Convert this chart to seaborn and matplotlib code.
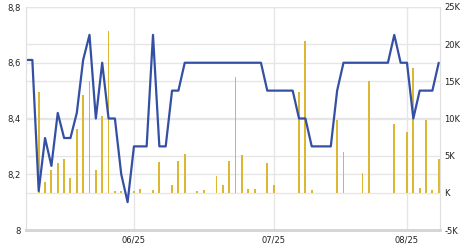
import matplotlib
matplotlib.use("Agg")
import matplotlib.pyplot as plt
import seaborn as sns
import numpy as np
import pandas as pd

# ---- data ----
price = [8.61, 8.61, 8.14, 8.33, 8.23, 8.42, 8.33, 8.33, 8.42, 8.61,
         8.70, 8.40, 8.60, 8.40, 8.40, 8.20, 8.10, 8.30, 8.30, 8.30,
         8.70, 8.30, 8.30, 8.50, 8.50, 8.60, 8.60, 8.60, 8.60, 8.60,
         8.60, 8.60, 8.60, 8.60, 8.60, 8.60, 8.60, 8.60, 8.50, 8.50,
         8.50, 8.50, 8.50, 8.40, 8.40, 8.30, 8.30, 8.30, 8.30, 8.50,
         8.60, 8.60, 8.60, 8.60, 8.60, 8.60, 8.60, 8.60, 8.70, 8.60,
         8.60, 8.40, 8.50, 8.50, 8.50, 8.60]
volume_k = [0, 0, 13.6, 1.5, 3.1, 4.0, 4.6, 2.0, 8.6, 13.1,
            15.0, 3.1, 10.3, 21.8, 0.2, 0.3, 0, 0.2, 0.5, 0,
            0.4, 4.1, 0, 1.1, 4.3, 5.2, 0, 0.25, 0.4, 0,
            2.3, 1.1, 4.3, 15.6, 5.1, 0.5, 0.5, 0, 4.0, 1.1,
            0, 0, 0, 13.6, 20.4, 0.4, 0, 0, 0, 9.8,
            5.5, 0, 0, 2.7, 15.1, 0, 0, 0, 9.3, 0,
            8.2, 16.8, 0.7, 9.8, 0.35, 4.5]
date_tick_idx = [17, 39, 60]
date_tick_labels = ["06/25", "07/25", "08/25"]
left_ticks = [8.0, 8.2, 8.4, 8.6, 8.8]
left_tick_labels = ["8", "8,2", "8,4", "8,6", "8,8"]
right_ticks = [-5, 0, 5, 10, 15, 20, 25]
right_tick_labels = ["-5K", "K", "5K", "10K", "15K", "20K", "25K"]

df = pd.DataFrame({"idx": np.arange(len(price)), "price": price, "vol": volume_k})

sns.set_style("white")
plt.rcParams["font.family"] = ["DejaVu Sans"]

LINE_C = "#3350a4"
BAR_C = "#dcb832"
GRID_C = "#e6e6e6"
TEXT_C = "#222222"

fig = plt.figure(figsize=(4.7, 2.5), dpi=100)
ax2 = fig.add_axes([26 / 470, 20 / 250, 414 / 470, 223 / 250])
ax = ax2.twinx()

# volume bars on right axis
sns.barplot(data=df, x="idx", y="vol", ax=ax2, native_scale=True,
            color=BAR_C, width=0.3, linewidth=0, saturation=1)
for p in ax2.patches:
    p.set_antialiased(False)
ax2.set_ylim(-5, 25)

# price line on left axis (drawn on top)
sns.lineplot(data=df, x="idx", y="price", ax=ax, color=LINE_C, linewidth=1.6)
ax.set_ylim(8.0, 8.8)
ax.yaxis.set_label_position("left")
ax.yaxis.tick_left()
ax2.yaxis.set_label_position("right")
ax2.yaxis.tick_right()

for a in (ax, ax2):
    a.set_xlabel("")
    a.set_ylabel("")

ax2.set_xlim(0, 65.2)
ax2.set_xticks(date_tick_idx)
ax2.set_xticklabels(date_tick_labels)
ax.tick_params(axis="x", bottom=False, labelbottom=False, top=False, labeltop=False)

ax.set_yticks(left_ticks)
ax.set_yticklabels(left_tick_labels)
ax2.set_yticks(right_ticks)
ax2.set_yticklabels(right_tick_labels)

ax2.grid(True, axis="both", color=GRID_C, linewidth=1)
ax2.set_axisbelow(True)
# grid lines at the price ticks too
for v in left_ticks:
    ax2.axhline(-5 + (v - 8.0) / 0.8 * 30, color=GRID_C, linewidth=1, zorder=0)

ax.tick_params(axis="y", length=0, labelsize=6, colors=TEXT_C, pad=4)
ax2.tick_params(axis="y", length=0, labelsize=6, colors=TEXT_C, pad=3)
ax2.tick_params(axis="x", length=2, width=1, color="#333333", labelsize=6,
                colors=TEXT_C, pad=2)

for a in (ax, ax2):
    a.spines["top"].set_visible(False)
    a.spines["left"].set_color("#e0e0e0")
    a.spines["right"].set_color("#e0e0e0")
    a.spines["bottom"].set_color("#d6d6d6")
    a.spines["bottom"].set_linewidth(2)
ax.patch.set_visible(False)

fig.savefig("out.png", dpi=100)
